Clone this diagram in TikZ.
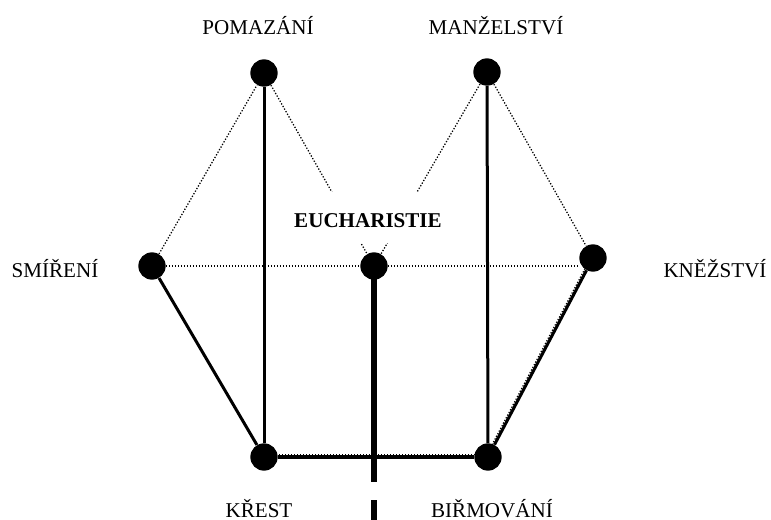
\documentclass[tikz,border=0pt]{standalone}
\usepackage{fontspec}
\setmainfont{Liberation Serif}
\usetikzlibrary{shapes,arrows,positioning}

\begin{document}
\begin{tikzpicture}[x=0.75pt, y=-0.75pt,
	sacr/.style={circle, fill=black, inner sep=0pt, minimum size=20.5pt},
	lbl/.style={font=\fontsize{15.8}{18}\selectfont, anchor=base},
	dotline/.style={line width=0.95pt, dash pattern=on 0.95pt off 1.3pt},
	strong/.style={line width=2.25pt},
	bar/.style={line width=3pt},
	axis/.style={line width=3.9pt, dash pattern=on 162pt off 13.5pt}]
				\useasboundingbox (0,0) rectangle (771,520);

				\node [sacr] (pomazani)    at (264,73)  {};
				\node [sacr] (manzelstvi)  at (487,72)  {};
				\node [sacr] (smireni)     at (152,266) {};
				\node [sacr] (eucharistie) at (374,266) {};
				\node [sacr] (knezstvi)    at (593,258) {};
				\node [sacr] (krest)       at (264,457) {};
				\node [sacr] (birmovani)   at (488,457) {};
				\coordinate (konec) at (374,520);

				\draw [dotline]	(smireni)    -- (pomazani);
				\draw [dotline]	(pomazani)   -- (eucharistie);
				\draw [dotline]	(manzelstvi) -- (eucharistie);
				\draw [dotline]	(manzelstvi) -- (knezstvi);
				\draw [dotline]	(smireni)    -- (smireni -| knezstvi.west);

				\draw [strong]	(pomazani)   -- (krest);
				\draw [strong]	(manzelstvi) -- (birmovani);
				\draw [strong]	(smireni)    -- (krest);
				\draw [strong]	(knezstvi)   -- (birmovani);
				\draw [bar]		(krest)      -- (birmovani);
				\draw [dotline]	([yshift=2pt]krest.center)     -- ([yshift=2pt]birmovani.center);
				\draw [dotline]	([xshift=-1.8pt]knezstvi.center) -- ([xshift=-1.8pt]birmovani.center);
				\draw [axis]	(eucharistie.center) -- (konec);

				\node [lbl] (l-pomazani)   at (258,35)  {POMAZÁNÍ};
				\node [lbl] (l-manzelstvi) at (496,35)  {MANŽELSTVÍ};
				\node [lbl] (l-smireni)    at (55,278)  {SMÍŘENÍ};
				\node [lbl] (l-knezstvi)   at (715,277) {KNĚŽSTVÍ};
				\node [lbl, font=\fontsize{15.8}{18}\selectfont\bfseries, fill=white, inner sep=0pt,
					text height=27pt, text depth=11pt] (l-eucharistie) at (368,228) {EUCHARISTIE};
				\node [lbl] (l-krest)      at (259,517) {KŘEST};
				\node [lbl] (l-birmovani)  at (492,517) {BIŘMOVÁNÍ};

\end{tikzpicture}
\end{document}
